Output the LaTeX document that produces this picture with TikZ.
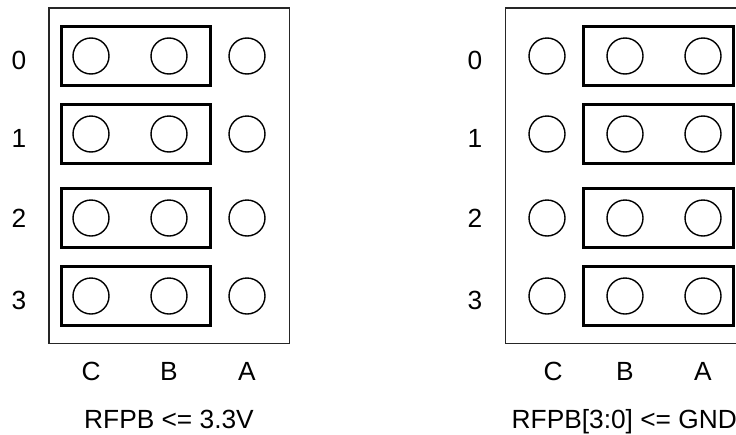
\documentclass[tikz,border=0pt]{standalone}
\usepackage{fontspec}
\setmainfont{Liberation Sans}
\tikzset{
  boardbox/.style={draw=black!85,line width=1.4pt,fill=none},
  jumperbox/.style={draw=black,line width=3pt,fill=none,rectangle,inner sep=0pt,minimum width=#1,minimum height=59pt},
  pinhole/.style={draw=black,line width=1.4pt,circle,inner sep=0pt,minimum size=36pt},
  lbl/.style={inner sep=0pt,anchor=base,font=\fontsize{26.3}{30}\selectfont}
}
\begin{document}
\begin{tikzpicture}[x=1pt,y=-1pt]
\useasboundingbox (0,0) rectangle (736,434);
% boards
\draw[boardbox] (49,8) rectangle (289.5,343.7);
\draw[boardbox] (505.3,8) rectangle (746,343.7);
% jumpers
\foreach \n/\yy in {0/56,1/134,2/218,3/296}{
  \node[jumperbox=149pt] (LJ\n) at (136.3,\yy) {};
  \node[jumperbox=150pt] (RJ\n) at (658,\yy) {};
  \foreach \c/\xl/\xr in {C/91/547,B/169/625,A/247/703}{
    \node[pinhole] (L\n\c) at (\xl,\yy) {};
    \node[pinhole] (R\n\c) at (\xr,\yy) {};
  }
}
% row labels
\foreach \n/\yy in {0/69,1/147,2/227.5,3/309}{
  \node[lbl] (LN\n) at (19,\yy) {\n};
  \node[lbl] (RN\n) at (475,\yy) {\n};
}
% column labels
\foreach \c/\xl/\xr in {C/91/553,B/169/625,A/247/703}{
  \node[lbl] (LT\c) at (\xl,380.5) {\c};
  \node[lbl] (RT\c) at (\xr,380.5) {\c};
}
% captions
\node[lbl] (capL) at (169,428.5) {RFPB <= 3.3V};
\node[lbl,anchor=base west] (capR) at (511.5,428.5) {RFPB[3:0] <= GND};
\end{tikzpicture}
\end{document}
